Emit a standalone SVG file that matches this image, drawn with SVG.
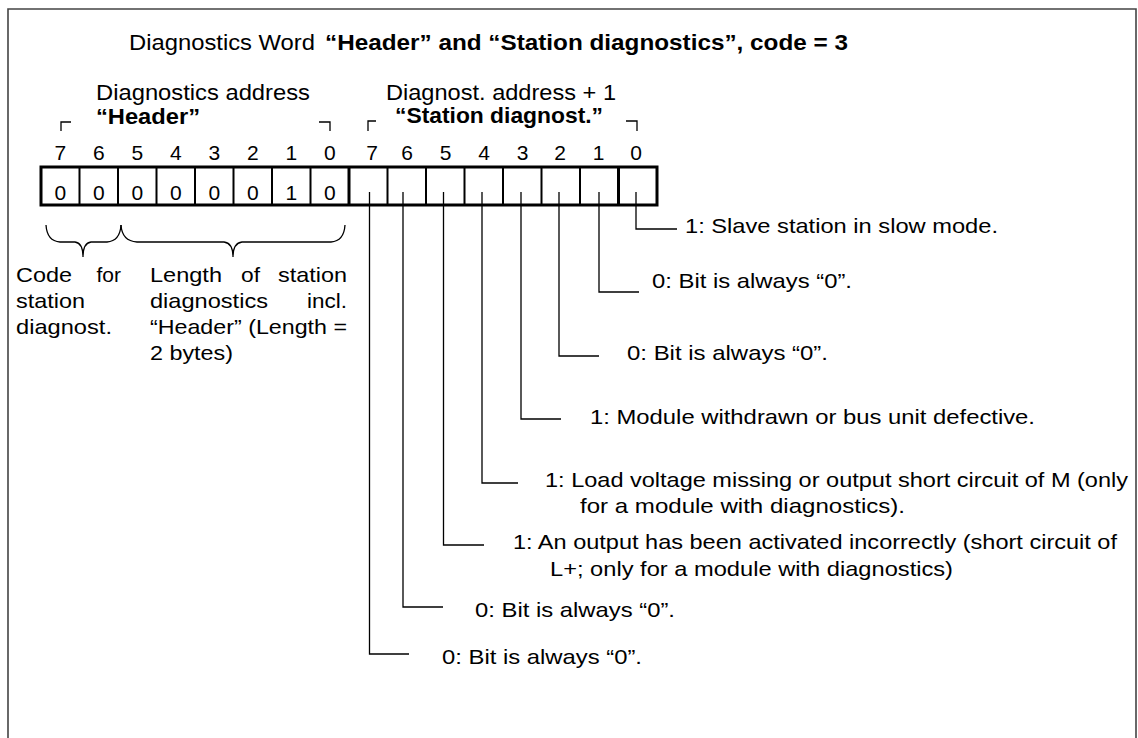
<svg xmlns="http://www.w3.org/2000/svg" width="1138" height="738" viewBox="0 0 1138 738">
<style>
text{font-family:"Liberation Sans",Arial,sans-serif;font-size:21px;fill:#000}
.b{font-weight:bold}
.t{font-size:22px}
.c{text-anchor:middle}
.e{text-anchor:end}
.ln{fill:none;stroke:#000;stroke-width:1.3}
.cell{fill:#fff;stroke:#000;stroke-width:2}
.thick{fill:none;stroke:#000;stroke-width:3}
</style>
<rect width="1138" height="738" fill="#fff"/>
<path d="M8,738 V9 H1136 V738" fill="none" stroke="#444" stroke-width="1.6"/>

<g id="title">
<text class="t" x="129" y="50" textLength="186" lengthAdjust="spacingAndGlyphs">Diagnostics Word</text>
<text class="t b" x="325" y="50" textLength="523" lengthAdjust="spacingAndGlyphs">“Header” and “Station diagnostics”, code = 3</text>
</g>

<g id="header-label">
<text class="t" x="96" y="100" textLength="214" lengthAdjust="spacingAndGlyphs">Diagnostics address</text>
<text class="t b" x="96" y="124" textLength="104" lengthAdjust="spacingAndGlyphs">“Header”</text>
<path class="ln" d="M61,131 V122 H71 M319,122 H330 V131"/>
</g>

<g id="station-label">
<text class="t" x="386" y="100" textLength="230" lengthAdjust="spacingAndGlyphs">Diagnost. address + 1</text>
<text class="t b" x="395" y="123" textLength="208" lengthAdjust="spacingAndGlyphs">“Station diagnost.”</text>
<path class="ln" d="M368,131 V121 H376 M626,121 H637 V131"/>
</g>

<g id="bit-numbers">
<text class="c" x="60.25" y="160">7</text>
<text class="c" x="98.75" y="160">6</text>
<text class="c" x="137.25" y="160">5</text>
<text class="c" x="175.75" y="160">4</text>
<text class="c" x="214.25" y="160">3</text>
<text class="c" x="252.75" y="160">2</text>
<text class="c" x="291.25" y="160">1</text>
<text class="c" x="329.75" y="160">0</text>
<text class="c" x="372" y="160">7</text>
<text class="c" x="407" y="160">6</text>
<text class="c" x="445.5" y="160">5</text>
<text class="c" x="484" y="160">4</text>
<text class="c" x="522.5" y="160">3</text>
<text class="c" x="560" y="160">2</text>
<text class="c" x="598.5" y="160">1</text>
<text class="c" x="636" y="160">0</text>
</g>

<g id="register">
<rect class="cell" x="41" y="167" width="616" height="38"/>
<path fill="none" stroke="#000" stroke-width="2" d="M79.5,167 V205 M118,167 V205 M156.5,167 V205 M195,167 V205 M233.5,167 V205 M272,167 V205 M310.5,167 V205 M387.5,167 V205 M426,167 V205 M464.5,167 V205 M503,167 V205 M541.5,167 V205 M580,167 V205"/>
<path class="thick" d="M349,167 V205 M618.5,167 V205 M41,167 H657 V205 H41 Z"/>
<text class="c" x="60.25" y="200">0</text>
<text class="c" x="98.75" y="200">0</text>
<text class="c" x="137.25" y="200">0</text>
<text class="c" x="175.75" y="200">0</text>
<text class="c" x="214.25" y="200">0</text>
<text class="c" x="252.75" y="200">0</text>
<text class="c" x="291.25" y="200">1</text>
<text class="c" x="329.75" y="200">0</text>
</g>

<g id="brace-code">
<path class="ln" d="M46,225 Q47,241 60,242 L75,242 Q83,243 83,257 Q83,243 91,242 L107,242 Q120,241 121,225"/>
<text x="16" y="282" textLength="56" lengthAdjust="spacingAndGlyphs">Code</text>
<text class="e" x="121" y="282">for</text>
<text x="16" y="308" textLength="69" lengthAdjust="spacingAndGlyphs">station</text>
<text x="16" y="334" textLength="96" lengthAdjust="spacingAndGlyphs">diagnost.</text>
</g>

<g id="brace-length">
<path class="ln" d="M121,225 Q122,241 137,242 L224,242 Q233,243 233,257 Q233,243 242,242 L331,242 Q344,241 345,225"/>
<text x="150" y="282" textLength="72" lengthAdjust="spacingAndGlyphs">Length</text>
<text x="241" y="282" textLength="19" lengthAdjust="spacingAndGlyphs">of</text>
<text x="278" y="282" textLength="69" lengthAdjust="spacingAndGlyphs">station</text>
<text x="150" y="308" textLength="118" lengthAdjust="spacingAndGlyphs">diagnostics</text>
<text x="307" y="308" textLength="40" lengthAdjust="spacingAndGlyphs">incl.</text>
<text x="150" y="334" textLength="197" lengthAdjust="spacingAndGlyphs">“Header” (Length =</text>
<text x="150" y="360" textLength="83" lengthAdjust="spacingAndGlyphs">2 bytes)</text>
</g>

<g id="connectors">
<path class="ln" d="M636,192 V229 H677"/>
<path class="ln" d="M599,192 V292 H639"/>
<path class="ln" d="M559,192 V356 H599"/>
<path class="ln" d="M521,192 V419 H561"/>
<path class="ln" d="M482,192 V483 H518"/>
<path class="ln" d="M443.5,192 V545 H484"/>
<path class="ln" d="M403,192 V607 H443"/>
<path class="ln" d="M369.5,192 V654 H409"/>
</g>

<g id="bit0"><text x="685" y="233" textLength="313" lengthAdjust="spacingAndGlyphs">1: Slave station in slow mode.</text></g>
<g id="bit1"><text x="652" y="288" textLength="200" lengthAdjust="spacingAndGlyphs">0: Bit is always “0”.</text></g>
<g id="bit2"><text x="627" y="360" textLength="201" lengthAdjust="spacingAndGlyphs">0: Bit is always “0”.</text></g>
<g id="bit3"><text x="590" y="424" textLength="445" lengthAdjust="spacingAndGlyphs">1: Module withdrawn or bus unit defective.</text></g>
<g id="bit4">
<text x="545" y="487" textLength="583" lengthAdjust="spacingAndGlyphs">1: Load voltage missing or output short circuit of M (only</text>
<text x="580" y="513" textLength="325" lengthAdjust="spacingAndGlyphs">for a module with diagnostics).</text>
</g>
<g id="bit5">
<text x="513" y="549" textLength="604" lengthAdjust="spacingAndGlyphs">1: An output has been activated incorrectly (short circuit of</text>
<text x="550" y="576" textLength="403" lengthAdjust="spacingAndGlyphs">L+; only for a module with diagnostics)</text>
</g>
<g id="bit6"><text x="475" y="617" textLength="200" lengthAdjust="spacingAndGlyphs">0: Bit is always “0”.</text></g>
<g id="bit7"><text x="442" y="664" textLength="200" lengthAdjust="spacingAndGlyphs">0: Bit is always “0”.</text></g>
</svg>
